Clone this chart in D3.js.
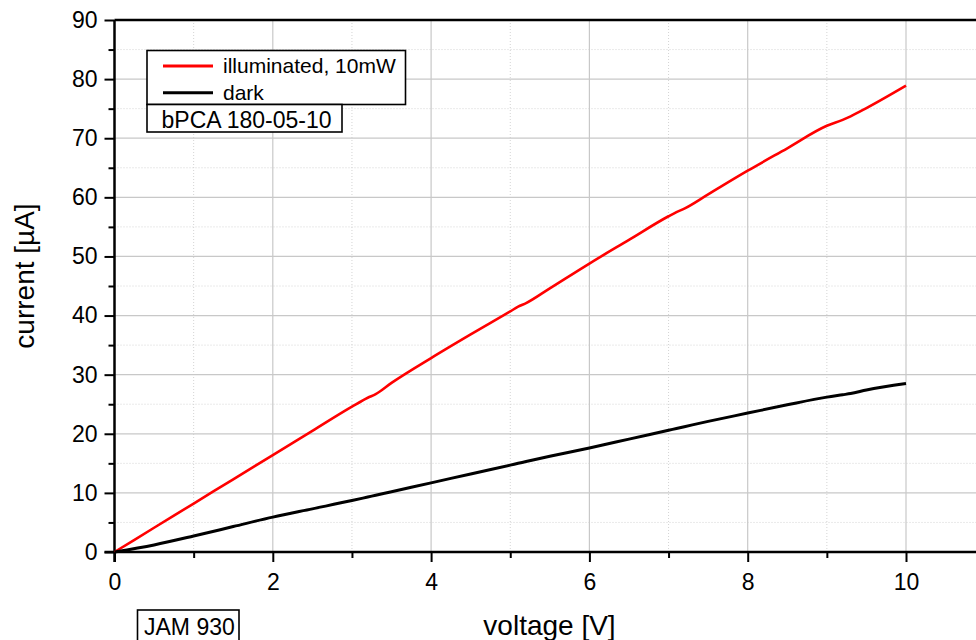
<!DOCTYPE html>
<html>
<head>
<meta charset="utf-8">
<script src="https://cdn.jsdelivr.net/npm/d3@7"></script>
<style>
  html, body { margin: 0; padding: 0; background: #ffffff; }
  svg { display: block; font-family: "Liberation Sans", Arial, sans-serif; }
</style>
</head>
<body>
<svg id="chart" width="976" height="640"></svg>
<script>
// ---- data ----
const voltage     = [0, 0.5, 1, 1.5, 2, 2.5, 3, 3.2, 3.3, 3.5, 4, 4.5, 5, 5.1, 5.2, 5.5, 6, 6.5, 7, 7.1, 7.2, 7.5, 8, 8.5, 9, 9.2, 9.3, 9.5, 10];
const illuminated = [0, 4.1, 8.2, 12.3, 16.4, 20.5, 24.6, 26.1, 26.7, 28.6, 32.8, 36.8, 40.7, 41.5, 42.1, 44.6, 48.8, 52.8, 56.8, 57.5, 58.1, 60.5, 64.5, 68.3, 72.1, 73.1, 73.7, 75.1, 78.9];
const dark        = [0, 1.2, 2.7, 4.3, 5.9, 7.3, 8.7, 9.3, 9.6, 10.2, 11.7, 13.2, 14.7, 15.0, 15.3, 16.2, 17.6, 19.1, 20.6, 20.9, 21.2, 22.1, 23.5, 24.9, 26.2, 26.6, 26.8, 27.4, 28.5];
const xTicks      = [0, 2, 4, 6, 8, 10];
const xMinor      = [1, 3, 5, 7, 9, 11];
const yTicks      = [0, 10, 20, 30, 40, 50, 60, 70, 80, 90];
const yMinor      = [5, 15, 25, 35, 45, 55, 65, 75, 85];
const seriesNames = ["illuminated, 10mW", "dark"];
const seriesColors = ["#ff0000", "#000000"];
const sampleLabel = "bPCA 180-05-10";
const idLabel = "JAM 930";
const xTitle = "voltage [V]";
const yTitle = "current [µA]";

(function () {
// ---- layout ----
const svg = d3.select("#chart");
const pLeft = 114.5, pTop = 20, pBottom = 552;
const x = d3.scaleLinear().domain([0, 12]).range([pLeft, pLeft + 12 * 79.15]);
const y = d3.scaleLinear().domain([0, 90]).range([pBottom, pTop]);

svg.append("rect").attr("width", 976).attr("height", 640).attr("fill", "#ffffff");

// grid
const grid = svg.append("g");
grid.selectAll(".gmx").data(xMinor).join("line")
  .attr("x1", d => x(d)).attr("x2", d => x(d)).attr("y1", pTop).attr("y2", pBottom)
  .attr("stroke", "#d4d4d4").attr("stroke-width", 1).attr("stroke-dasharray", "1,2");
grid.selectAll(".gmy").data(yMinor).join("line")
  .attr("y1", d => y(d)).attr("y2", d => y(d)).attr("x1", pLeft).attr("x2", x(12))
  .attr("stroke", "#d4d4d4").attr("stroke-width", 1).attr("stroke-dasharray", "1,2");
grid.selectAll(".gx").data(xTicks.filter(d => d > 0)).join("line")
  .attr("x1", d => x(d)).attr("x2", d => x(d)).attr("y1", pTop).attr("y2", pBottom)
  .attr("stroke", "#c8c8c8").attr("stroke-width", 1.2);
grid.selectAll(".gy").data(yTicks.filter(d => d > 0 && d < 90)).join("line")
  .attr("y1", d => y(d)).attr("y2", d => y(d)).attr("x1", pLeft).attr("x2", x(12))
  .attr("stroke", "#c8c8c8").attr("stroke-width", 1.2);

// axes (major with labels, minor without)
const xAxis = svg.append("g").attr("transform", `translate(0,${pBottom})`)
  .call(d3.axisBottom(x).tickValues(xTicks).tickSize(10).tickPadding(12).tickFormat(d3.format("d")));
const xAxisMinor = svg.append("g").attr("transform", `translate(0,${pBottom})`)
  .call(d3.axisBottom(x).tickValues(xMinor).tickSize(6).tickFormat(""));
const yAxis = svg.append("g").attr("transform", `translate(${pLeft},0)`)
  .call(d3.axisLeft(y).tickValues(yTicks).tickSize(10).tickPadding(7).tickFormat(d3.format("d")));
const yAxisMinor = svg.append("g").attr("transform", `translate(${pLeft},0)`)
  .call(d3.axisLeft(y).tickValues(yMinor).tickSize(6).tickFormat(""));
[xAxis, xAxisMinor, yAxis, yAxisMinor].forEach(g => {
  g.select(".domain").remove();
  g.selectAll(".tick line").attr("stroke", "#000").attr("stroke-width", 2);
  g.selectAll(".tick text").attr("fill", "#000").attr("font-size", 23)
    .attr("font-family", "'Liberation Sans', Arial, sans-serif");
});

// frame lines
svg.append("line").attr("x1", pLeft).attr("x2", 976).attr("y1", pTop).attr("y2", pTop)
  .attr("stroke", "#000").attr("stroke-width", 2.5);
svg.append("line").attr("x1", pLeft - 10).attr("x2", 976).attr("y1", pBottom).attr("y2", pBottom)
  .attr("stroke", "#000").attr("stroke-width", 2.5);
svg.append("line").attr("x1", pLeft).attr("x2", pLeft).attr("y1", pTop).attr("y2", pBottom + 10)
  .attr("stroke", "#000").attr("stroke-width", 2.5);

// data lines
const line = d3.line().x(d => x(d[0])).y(d => y(d[1])).curve(d3.curveMonotoneX);
const series = [illuminated, dark];
series.forEach((vals, i) => {
  svg.append("path")
    .datum(voltage.map((v, k) => [v, vals[k]]))
    .attr("d", line)
    .attr("fill", "none")
    .attr("stroke", seriesColors[i])
    .attr("stroke-width", i === 0 ? 2.6 : 3)
    .attr("stroke-linejoin", "round");
});

// legend
const lg = svg.append("g");
lg.append("rect").attr("x", 147).attr("y", 50.5).attr("width", 258.5).attr("height", 54)
  .attr("fill", "#fff").attr("stroke", "#000").attr("stroke-width", 1.6);
seriesNames.forEach((name, i) => {
  const yy = 66 + i * 26.7;
  lg.append("line").attr("x1", 163).attr("x2", 213).attr("y1", yy).attr("y2", yy)
    .attr("stroke", seriesColors[i]).attr("stroke-width", 3);
  lg.append("text").attr("x", 223).attr("y", yy + 7).attr("font-size", 21)
    .attr("fill", "#000").text(name);
});
lg.append("rect").attr("x", 147).attr("y", 104.5).attr("width", 195).attr("height", 27.5)
  .attr("fill", "#fff").attr("stroke", "#000").attr("stroke-width", 1.6);
lg.append("text").attr("x", 161.5).attr("y", 127.5).attr("font-size", 23)
  .attr("fill", "#000").text(sampleLabel);

// ID box
svg.append("rect").attr("x", 137.5).attr("y", 610).attr("width", 101.5).attr("height", 40)
  .attr("fill", "#fff").attr("stroke", "#000").attr("stroke-width", 1.6);
svg.append("text").attr("x", 144).attr("y", 634.5).attr("font-size", 23)
  .attr("fill", "#000").text(idLabel);

// axis titles
svg.append("text").attr("x", 549.5).attr("y", 635).attr("text-anchor", "middle")
  .attr("font-size", 28).attr("fill", "#000").text(xTitle);
svg.append("text").attr("transform", "translate(33.5,276) rotate(-90)")
  .attr("text-anchor", "middle").attr("font-size", 28).attr("fill", "#000").text(yTitle);
})();
</script>
</body>
</html>
